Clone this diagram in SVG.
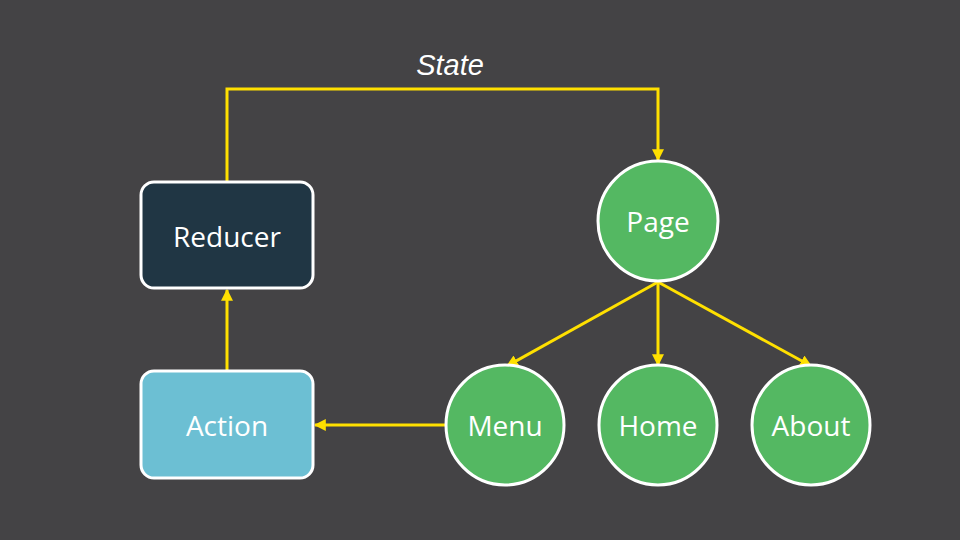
<svg xmlns="http://www.w3.org/2000/svg" width="960" height="540" viewBox="0 0 960 540">
<defs>
<marker id="ah" viewBox="0 0 10 10" refX="9" refY="5" markerWidth="4" markerHeight="4" orient="auto" markerUnits="strokeWidth">
<path d="M0,0 L10,5 L0,10 z" fill="#FFE000"/>
</marker>
<style>
.c{fill:none;stroke:#FFE000;stroke-width:3;marker-end:url(#ah)}
.n{stroke:#FFFFFF;stroke-width:3}
.g{fill:#54B862}
.t{font-family:"Open Sans","Noto Sans",sans-serif;font-size:28px;fill:#FFFFFF;text-anchor:middle;dominant-baseline:central}
</style>
</defs>
<rect width="960" height="540" fill="#444345"/>
<g id="connectors">
<polyline class="c" points="227,182 227,89 658,89 658,160"/>
<line class="c" x1="227" y1="371" x2="227" y2="290"/>
<line class="c" x1="445" y1="425" x2="315" y2="425"/>
<line class="c" x1="658" y1="282" x2="507" y2="366"/>
<line class="c" x1="658" y1="282" x2="658" y2="365"/>
<line class="c" x1="658" y1="282" x2="811" y2="366"/>
</g>
<text x="450" y="65" font-family="'Liberation Sans',Arial,sans-serif" font-size="29" font-style="italic" fill="#FFFFFF" text-anchor="middle" dominant-baseline="central">State</text>
<g id="reducer"><rect class="n" x="141" y="182" width="172" height="106" rx="13" fill="#203644"/><text class="t" x="227" y="236">Reducer</text></g>
<g id="action"><rect class="n" x="141" y="371" width="172" height="107" rx="13" fill="#6CBFD3"/><text class="t" x="227" y="425">Action</text></g>
<g id="page"><circle class="n g" cx="658" cy="221" r="60"/><text class="t" x="658" y="221">Page</text></g>
<g id="menu"><ellipse class="n g" cx="505" cy="425" rx="59" ry="60"/><text class="t" x="505" y="425">Menu</text></g>
<g id="home"><ellipse class="n g" cx="658" cy="425" rx="59" ry="60"/><text class="t" x="658" y="425">Home</text></g>
<g id="about"><ellipse class="n g" cx="811" cy="425" rx="59" ry="60"/><text class="t" x="811" y="425">About</text></g>
</svg>
